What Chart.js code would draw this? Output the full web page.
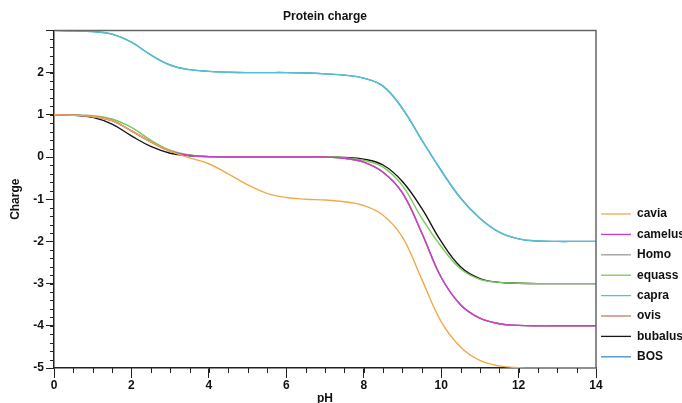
<!DOCTYPE html>
<html>
<head>
<meta charset="utf-8">
<script src="https://cdn.jsdelivr.net/npm/chart.js@4.4.1/dist/chart.umd.min.js"></script>
<style>
  html, body { margin: 0; padding: 0; background: #fff; }
  #wrap { width: 682px; height: 403px; }
</style>
</head>
<body>
<div id="wrap"><canvas id="chart"></canvas></div>
<script>
// pH samples and charge
const pH = [0, 0.5, 1, 1.5, 2, 2.5, 3, 3.5, 4, 4.5, 5, 5.5, 6, 6.5, 7, 7.5, 8, 8.5, 9, 9.5, 10, 10.5, 11, 11.5, 12, 12.5, 13, 13.5, 14];

const cavia   = [1, 0.99, 0.96, 0.86, 0.62, 0.36, 0.14, -0.02, -0.16, -0.4, -0.66, -0.86, -0.96, -1.0, -1.02, -1.06, -1.15, -1.38, -1.9, -2.9, -3.9, -4.5, -4.82, -4.95, -4.99, -5, -5, -5, -5];
const camelus = [1, 0.99, 0.96, 0.86, 0.62, 0.36, 0.14, 0.04, 0.01, 0, 0, 0, 0, 0, 0, -0.03, -0.12, -0.36, -0.85, -1.8, -2.85, -3.5, -3.82, -3.95, -3.99, -4, -4, -4, -4];
const homo    = [1, 0.99, 0.96, 0.86, 0.62, 0.36, 0.14, 0.04, 0.01, 0, 0, 0, 0, 0, 0, -0.03, -0.12, -0.36, -0.85, -1.8, -2.85, -3.5, -3.82, -3.95, -3.99, -4, -4, -4, -4];
const equass  = [1, 1.0, 0.98, 0.9, 0.7, 0.4, 0.16, 0.05, 0.01, 0, 0, 0, 0, 0, 0, -0.02, -0.08, -0.24, -0.68, -1.45, -2.12, -2.65, -2.9, -2.97, -2.99, -3, -3, -3, -3];
const capra   = [3, 2.99, 2.97, 2.91, 2.72, 2.42, 2.18, 2.07, 2.03, 2.01, 2.0, 2.0, 2.0, 1.99, 1.97, 1.94, 1.87, 1.68, 1.15, 0.4, -0.32, -0.97, -1.45, -1.78, -1.94, -1.99, -2, -2, -2];
const ovis    = [1, 0.99, 0.96, 0.86, 0.62, 0.36, 0.14, 0.04, 0.01, 0, 0, 0, 0, 0, 0, -0.03, -0.12, -0.36, -0.85, -1.8, -2.85, -3.5, -3.82, -3.95, -3.99, -4, -4, -4, -4];
const bubalus = [1, 0.99, 0.94, 0.78, 0.5, 0.25, 0.09, 0.03, 0.01, 0, 0, 0, 0, 0, 0, -0.01, -0.05, -0.19, -0.58, -1.22, -2.0, -2.6, -2.88, -2.97, -2.99, -3, -3, -3, -3];
const bos     = [3, 2.99, 2.97, 2.91, 2.72, 2.42, 2.18, 2.07, 2.03, 2.01, 2.0, 2.0, 2.0, 1.99, 1.97, 1.94, 1.87, 1.68, 1.15, 0.4, -0.32, -0.97, -1.45, -1.78, -1.94, -1.99, -2, -2, -2];

const names  = ['cavia', 'camelus', 'Homo', 'equass', 'capra', 'ovis', 'bubalus', 'BOS'];
const series = [cavia, camelus, homo, equass, capra, ovis, bubalus, bos];
const colors = ['#f2a94a', '#cc3ccc', '#9a9a9a', '#7cc85a', '#55c2cc', '#c07a66', '#151515', '#3d8cc8'];

const xTicks = [0, 2, 4, 6, 8, 10, 12, 14];
const yTicks = [-5, -4, -3, -2, -1, 0, 1, 2];

const font = { family: 'Liberation Sans, Arial, sans-serif', size: 12, weight: 'bold' };

// frame (top/right), minor ticks and the legend on the right
const extras = {
  id: 'extras',
  afterDraw(chart) {
    const { ctx, chartArea: a, scales: { x, y } } = chart;
    ctx.save();
    ctx.strokeStyle = '#666';
    ctx.lineWidth = 1.5;
    ctx.beginPath();
    ctx.moveTo(a.left, a.top);
    ctx.lineTo(a.right, a.top);
    ctx.lineTo(a.right, a.bottom);
    ctx.stroke();

    ctx.strokeStyle = '#222';
    ctx.lineWidth = 1;
    ctx.beginPath();
    for (let v = 0.5; v < 14; v += 0.5) {
      const px = Math.round(x.getPixelForValue(v)) + 0.5;
      ctx.moveTo(px, a.bottom);
      ctx.lineTo(px, a.bottom + 5);
    }
    for (let v = -4.8; v < 3; v += 0.2) {
      const py = Math.round(y.getPixelForValue(v)) + 0.5;
      ctx.moveTo(a.left, py);
      ctx.lineTo(a.left - 4, py);
    }
    ctx.stroke();

    // legend
    ctx.font = 'bold 12px "Liberation Sans", Arial, sans-serif';
    ctx.textBaseline = 'middle';
    chart.data.datasets.forEach((ds, i) => {
      const cy = 214 + i * 20.4;
      ctx.strokeStyle = ds.borderColor;
      ctx.lineWidth = 1.3;
      ctx.beginPath();
      ctx.moveTo(601, cy);
      ctx.lineTo(631, cy);
      ctx.stroke();
      ctx.fillStyle = '#111';
      ctx.fillText(ds.label, 637, cy);
    });
    ctx.restore();
  }
};

new Chart(document.getElementById('chart'), {
  type: 'line',
  data: {
    datasets: names.map((n, i) => ({
      label: n,
      data: pH.map((p, k) => ({ x: p, y: series[i][k] })),
      borderColor: colors[i],
      borderWidth: 1.4,
      pointRadius: 0,
      tension: 0.4,
      fill: false
    }))
  },
  options: {
    responsive: true,
    maintainAspectRatio: false,
    animation: false,
    layout: { padding: { left: 0, right: 86, top: 0, bottom: 0 } },
    plugins: {
      legend: { display: false },
      tooltip: { enabled: false },
      title: {
        display: true,
        text: 'Protein charge',
        fullSize: false,
        color: '#111',
        font: font,
        padding: { top: 9, bottom: 7 }
      }
    },
    scales: {
      x: {
        type: 'linear',
        min: 0,
        max: 14,
        afterBuildTicks: (s) => { s.ticks = xTicks.map(v => ({ value: v })); },
        afterFit: (s) => { s.height = 35; },
        ticks: { color: '#111', font: font, padding: 0, maxRotation: 0 },
        grid: { drawOnChartArea: false, tickLength: 10, color: '#222' },
        border: { color: '#222', width: 1.5 },
        title: { display: true, text: 'pH', color: '#111', font: font, padding: { top: 0, bottom: -3 } }
      },
      y: {
        min: -5,
        max: 3,
        afterBuildTicks: (s) => { s.ticks = yTicks.map(v => ({ value: v })).concat([{ value: 3 }]); },
        afterFit: (s) => { s.width = 54; },
        ticks: {
          color: '#111', font: font, padding: 2,
          callback: (v) => (v === 3 ? '' : v)
        },
        grid: { drawOnChartArea: false, tickLength: 8, color: '#222' },
        border: { color: '#222', width: 1.5 },
        title: { display: true, text: 'Charge', color: '#111', font: font, padding: { top: 8, bottom: 0 } }
      }
    }
  },
  plugins: [extras]
});
</script>
</body>
</html>
